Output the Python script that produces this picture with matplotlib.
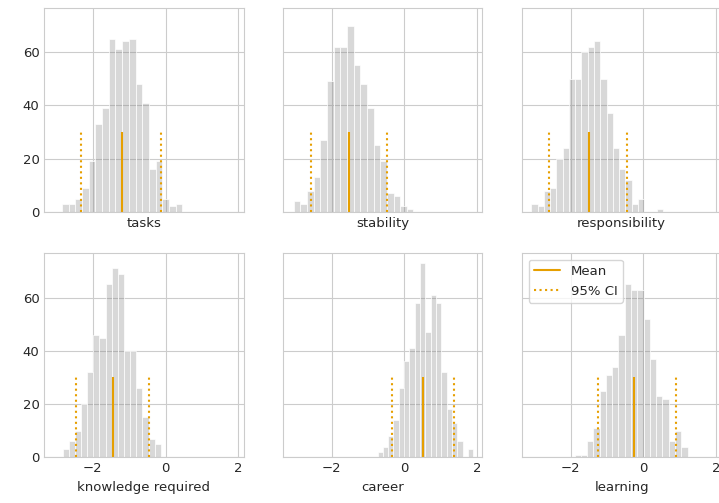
import numpy as np
import matplotlib.pyplot as plt
import seaborn as sns
from matplotlib.lines import Line2D

sns.set_style("whitegrid")
plt.rcParams["font.family"] = ["DejaVu Sans"]
plt.rcParams["font.size"] = 9.5

names = ["tasks", "stability", "responsibility",
         "knowledge required", "career", "learning"]

# histogram of posterior draws: first bin edge, bin width, counts per bin
bin_start = [-2.844, -3.041, -3.078, -2.826, -0.740, -1.890]
bin_width = [0.1835, 0.1827, 0.1722, 0.1686, 0.1461, 0.1725]
counts = [
    [3, 3, 5, 9, 19, 33, 39, 65, 61, 64, 65, 48, 41, 16, 19, 5, 2, 3],
    [4, 3, 8, 13, 27, 49, 62, 62, 70, 55, 48, 39, 25, 19, 7, 6, 2, 1],
    [3, 2, 8, 9, 20, 24, 50, 50, 60, 62, 64, 50, 37, 24, 16, 12, 3, 5, 0, 0, 1],
    [3, 6, 10, 20, 32, 46, 45, 65, 71, 69, 40, 40, 26, 15, 7, 5],
    [2, 4, 8, 14, 26, 36, 41, 58, 73, 47, 61, 58, 32, 18, 13, 6, 0, 3],
    [1, 1, 6, 11, 25, 31, 34, 46, 65, 63, 63, 52, 37, 23, 22, 6, 10, 4],
]

means = [-1.193, -1.534, -1.479, -1.450, 0.511, -0.256]
ci_low = [-2.312, -2.566, -2.603, -2.468, -0.356, -1.242]
ci_high = [-0.119, -0.484, -0.447, -0.468, 1.361, 0.895]

line_color = "#E69F00"

fig, axes = plt.subplots(2, 3, sharex=True, sharey=True, figsize=(7.19, 5.03), dpi=100)
fig.subplots_adjust(left=0.0616, right=1.0032, bottom=0.0909, top=0.9847,
                    wspace=0.199, hspace=0.2025)

for i, ax in enumerate(axes.flat):
    c = np.array(counts[i])
    edges = bin_start[i] + bin_width[i] * np.arange(len(c))
    ax.bar(edges, c, width=bin_width[i], align="edge",
           color=(0.5, 0.5, 0.5, 0.3), edgecolor="white", linewidth=0.5)
    ax.vlines(means[i], 0, 30, color=line_color, linewidth=1.5)
    ax.vlines([ci_low[i], ci_high[i]], 0, 30, color=line_color,
              linewidth=1.5, linestyles=":")
    ax.set_xlabel(names[i])
    ax.tick_params(length=0)

axes[0, 0].set_xlim(-3.33, 2.14)
axes[0, 0].set_ylim(0, 76.7)
axes[0, 0].set_xticks([-2, 0, 2])
axes[0, 0].set_yticks([0, 20, 40, 60])

handles = [Line2D([], [], color=line_color, linewidth=1.5),
           Line2D([], [], color=line_color, linewidth=1.5, linestyle=":")]
axes[1, 2].legend(handles, ["Mean", "95% CI"], loc="upper left")

fig.savefig("out.png")
